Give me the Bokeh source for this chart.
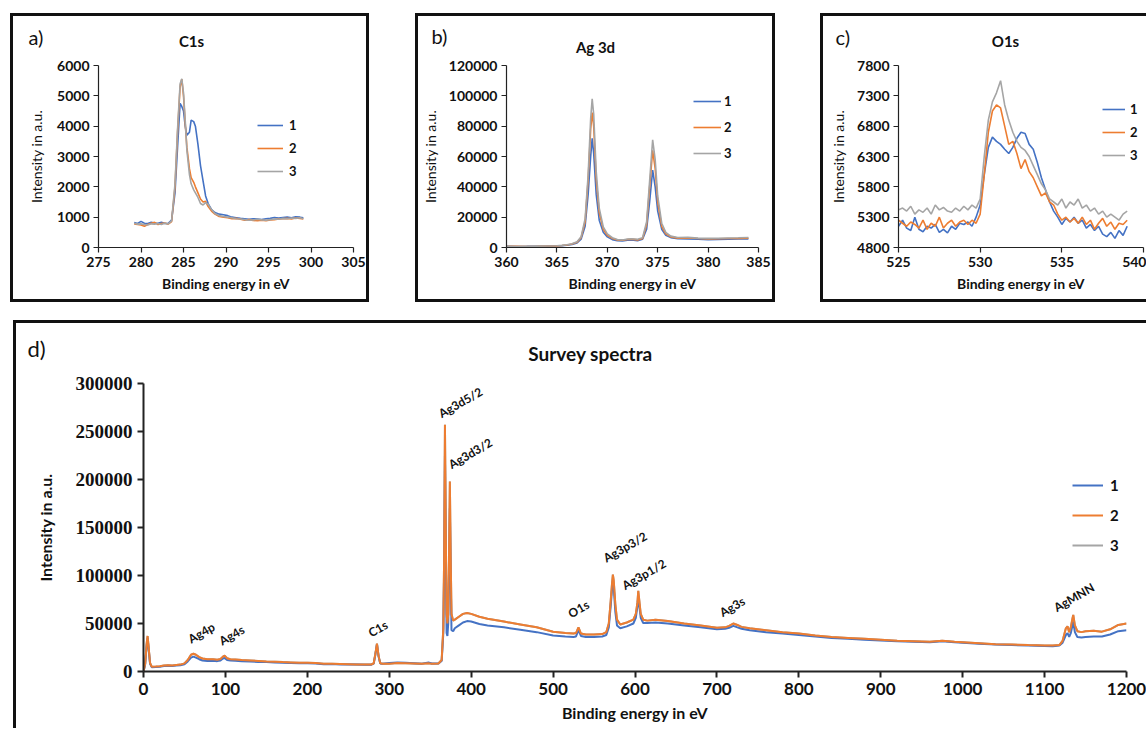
from bokeh.plotting import figure
from bokeh.models import Range1d, FixedTicker, BasicTickFormatter, Legend, LegendItem, Label, Spacer
from bokeh.layouts import column, row
from bokeh.core.properties import value
from bokeh.embed import file_html
from bokeh.resources import INLINE

SANS = "Lato"
SERIF = "Liberation Serif"
BLUE = "#4472C4"
ORANGE = "#ED7D31"
GRAY = "#A5A5A5"
series_names = ["1", "2", "3"]

# ---------------- a) C1s ----------------
c1s_x = [279.2, 279.6, 280.0, 280.4, 280.8, 281.2, 281.6, 282.0, 282.4, 282.8, 283.2, 283.6,
         284.0, 284.3, 284.6, 284.8, 285.0, 285.2, 285.4, 285.7, 285.9, 286.2, 286.4, 286.7,
         287.0, 287.3, 287.6, 287.9, 288.3, 288.7, 289.2, 289.7, 290.2, 290.7, 291.2, 291.7,
         292.2, 292.7, 293.2, 293.7, 294.2, 294.7, 295.2, 295.7, 296.2, 296.7, 297.2, 297.7,
         298.2, 298.7, 299.1]
c1s_1 = [820, 790, 860, 800, 790, 830, 810, 800, 830, 790, 800, 900,
         1800, 3300, 4750, 4650, 4500, 4000, 3700, 3800, 4200, 4150, 4000, 3400,
         2700, 2200, 1700, 1450, 1250, 1150, 1100, 1080, 1050, 1000, 980, 960,
         950, 930, 950, 940, 920, 950, 960, 990, 970, 990, 1000, 980,
         1010, 1000, 980]
c1s_2 = [780, 760, 740, 700, 760, 800, 830, 760, 790, 810, 770, 850,
         2000, 3800, 5300, 5550, 5000, 4100, 3300, 2600, 2300, 2150, 2000, 1800,
         1600, 1500, 1520, 1350, 1200, 1100, 1020, 1000, 980, 950, 960, 930,
         900, 920, 890, 880, 900, 880, 910, 920, 940, 950, 960, 940,
         970, 960, 940]
c1s_3 = [800, 770, 780, 760, 740, 780, 770, 790, 760, 800, 780, 880,
         2100, 3900, 5400, 5560, 5100, 4200, 3200, 2400, 2100, 1900, 1800, 1650,
         1450, 1400, 1480, 1420, 1250, 1120, 1050, 1020, 1000, 980, 950, 940,
         920, 900, 910, 930, 910, 900, 920, 940, 930, 960, 950, 970,
         960, 980, 950]

# ---------------- b) Ag 3d ----------------
ag3d_x = [360, 361, 362, 363, 364, 365, 365.5, 366, 366.5, 367, 367.4, 367.8, 368.1, 368.35,
          368.5, 368.65, 368.9, 369.2, 369.6, 370, 370.5, 371, 371.5, 372, 372.4, 373, 373.5,
          373.9, 374.2, 374.5, 374.75, 375, 375.4, 375.8, 376.3, 377, 378, 379, 380, 381,
          382, 383, 384]
ag3d_1 = [800, 700, 750, 850, 900, 1000, 1200, 1500, 2000, 3000, 5500, 14000, 35000, 60000,
          72000, 62000, 35000, 18000, 10000, 7000, 5200, 4500, 4300, 4800, 5000, 4500, 5500,
          12000, 30000, 51000, 40000, 24000, 12000, 8000, 6500, 5800, 5700, 5400, 5200, 5300,
          5500, 5600, 5700]
ag3d_2 = [700, 800, 700, 800, 1000, 1100, 1300, 1700, 2300, 3500, 6500, 17000, 45000, 78000,
          89000, 80000, 45000, 23000, 12000, 8000, 6000, 5000, 4800, 5300, 5500, 5000, 6000,
          15000, 40000, 64000, 52000, 30000, 14000, 9000, 7000, 6200, 6300, 5900, 5600, 5800,
          5900, 6000, 6200]
ag3d_3 = [900, 700, 800, 900, 1000, 1200, 1400, 1800, 2500, 3800, 7000, 19000, 48000, 85000,
          98000, 88000, 50000, 26000, 13500, 9000, 6500, 5300, 5000, 5600, 5800, 5400, 6500,
          17000, 44000, 71000, 58000, 34000, 16000, 10000, 7500, 6600, 6700, 6200, 6000, 6100,
          6300, 6400, 6600]

# ---------------- c) O1s ----------------
o1s_x = [525.0, 525.25, 525.5, 525.75, 526.0, 526.25, 526.5, 526.75, 527.0, 527.25, 527.5, 527.75,
         528.0, 528.25, 528.5, 528.75, 529.0, 529.25, 529.5, 529.75, 530.0, 530.25, 530.5, 530.75,
         531.0, 531.25, 531.5, 531.75, 532.0, 532.25, 532.5, 532.75, 533.0, 533.25, 533.5, 533.75,
         534.0, 534.25, 534.5, 534.75, 535.0, 535.25, 535.5, 535.75, 536.0, 536.25, 536.5, 536.75,
         537.0, 537.25, 537.5, 537.75, 538.0, 538.25, 538.5, 538.75, 539.0]
o1s_1 = [5150, 5250, 5120, 5080, 5300, 5100, 5060, 5150, 5120, 5180, 5050, 5100,
         5040, 5150, 5100, 5200, 5180, 5220, 5150, 5300, 5500, 6000, 6450, 6620,
         6550, 6500, 6420, 6350, 6450, 6600, 6700, 6680, 6500, 6420, 6200, 5950,
         5750, 5550, 5400, 5300, 5180, 5280, 5220, 5300, 5200, 5250, 5120, 5180,
         5080, 5150, 5020, 4980, 5050, 4950, 5080, 5000, 5150]
o1s_2 = [5250, 5200, 5150, 5220, 5180, 5120, 5250, 5100, 5200, 5150, 5300, 5120,
         5200, 5250, 5150, 5220, 5250, 5180, 5250, 5200, 5350, 6000, 6700, 7050,
         7150, 7100, 6800, 6500, 6550, 6350, 6100, 6250, 6050, 5950, 5800, 5650,
         5700, 5550, 5500, 5350, 5250, 5300, 5220, 5280, 5200, 5300, 5180, 5250,
         5100, 5200, 5280, 5150, 5220, 5100, 5200, 5180, 5250]
o1s_3 = [5420, 5450, 5400, 5480, 5350, 5420, 5380, 5450, 5350, 5500, 5420, 5460,
         5400, 5380, 5450, 5400, 5480, 5420, 5500, 5450, 5600, 6300, 6900, 7200,
         7350, 7550, 7150, 6900, 6700, 6550, 6450, 6400, 6300, 6150, 6000, 5850,
         5750, 5600, 5550, 5500, 5600, 5450, 5550, 5500, 5600, 5450, 5500, 5400,
         5450, 5350, 5400, 5300, 5350, 5300, 5250, 5350, 5400]

# ---------------- d) Survey ----------------
survey_x = [0, 2, 4, 5, 6, 8, 10, 15, 20, 25, 30, 35, 40, 45, 50, 54, 58, 61, 64, 68, 72, 78,
            85, 90, 94, 97, 99, 102, 106, 112, 120, 130, 140, 150, 160, 170, 180, 190, 200,
            210, 220, 230, 240, 250, 260, 270, 278, 281, 283, 285, 287, 289, 292, 300, 310,
            320, 330, 340, 348, 350, 352, 360, 364, 366, 367, 368, 369, 370, 371, 372, 373,
            374, 375, 376, 378, 380, 385, 390, 395, 400, 410, 420, 440, 460, 480, 500, 515,
            525, 528, 531, 534, 540, 550, 560, 565, 568, 570, 572, 573, 574, 576, 578, 582,
            590, 598, 601, 603, 604, 605, 607, 610, 615, 625, 640, 660, 680, 700, 710, 715,
            720, 725, 730, 740, 760, 780, 800, 820, 840, 860, 880, 900, 920, 940, 960, 975,
            990, 1000, 1020, 1040, 1060, 1080, 1100, 1110, 1118, 1122, 1126, 1128, 1130, 1132,
            1134, 1135, 1137, 1140, 1145, 1150, 1160, 1170, 1180, 1190, 1200]
survey_2 = [0, 8000, 30000, 37000, 28000, 9000, 5000, 5200, 5500, 6200, 6500, 6300, 6800, 7200,
            8500, 12000, 17500, 18500, 17500, 15000, 13500, 12800,
            12800, 12300, 13000, 15500, 16500, 13800, 12800, 12500, 12000, 11500, 11000, 10500,
            10200, 9800, 9500, 9200, 9000,
            8800, 8200, 8000, 7800, 7600, 7400, 7300, 7300, 8500, 18000, 29000, 16000, 8500,
            8000, 8200, 8800,
            8600, 8300, 8000, 8500, 8200, 8000, 8300, 12000, 45000, 120000, 257000, 150000,
            60000, 50000, 60000, 120000,
            198000, 120000, 60000, 53000, 54000, 57000, 60000, 61000, 60000, 57000, 55000,
            52000, 49000, 46000, 41500, 40000,
            39500, 40000, 46000, 39500, 38500, 38500, 39000, 41000, 50000, 70000, 92000,
            101000, 95000, 70000, 54000, 49000,
            51000, 54000, 60000, 72000, 84000, 76000, 60000, 54000, 53000, 54000, 52500,
            50000, 48000, 45500, 46000, 47500,
            50000, 48500, 46500, 45000, 43000, 41000, 39500, 37500, 36000, 35000, 34000,
            33000, 32000, 31500, 31000, 32000,
            31000, 30500, 29500, 28500, 28000, 27500, 27200, 27000, 27500, 32000, 45000,
            47000, 41000, 46000,
            55000, 59000, 48000, 42000, 41000, 42000, 42500, 41500, 44000, 48500, 50000]
survey_1 = [0, 7000, 28000, 35000, 26000, 8000, 4500, 4800, 5000, 5600, 6000, 5800, 6200, 6500,
            7500, 10500, 14500, 15500, 14500, 12800, 11500, 11000,
            11200, 10800, 11500, 13500, 14000, 12000, 11500, 11200, 10800, 10500, 10000, 9800,
            9500, 9200, 8900, 8700, 8500,
            8300, 7600, 7700, 7400, 7300, 7200, 7100, 7100, 8300, 17500, 28500, 15500, 8300,
            8200, 8800, 9300,
            9000, 8600, 8200, 9500, 8800, 8300, 8400, 11000, 40000, 105000, 225000, 130000,
            40000, 37000, 50000, 100000,
            170000, 100000, 43000, 42000, 45000, 48000, 51000, 52500, 52000, 49500, 48000,
            46000, 43500, 41000, 37500, 36500,
            36000, 36500, 43000, 37000, 36000, 36000, 36500, 38000, 46000, 65000, 86000,
            94000, 88000, 62000, 48000, 45000,
            47000, 50000, 56000, 68000, 78000, 70000, 56000, 50500, 50500, 51000, 50000,
            48000, 46000, 44000, 44500, 45500,
            47500, 46000, 44500, 43000, 41000, 39500, 38000, 36500, 35000, 34200, 33200,
            32200, 31500, 31000, 30500, 31500,
            30500, 30000, 29000, 28000, 27500, 27000, 26600, 26300, 27000, 30000, 38000,
            40000, 36000, 40000,
            48000, 52000, 41000, 36000, 35500, 36000, 36500, 36500, 38500, 42000, 43000]
# series 3 lies under series 2 in the survey (hidden behind the orange trace)
survey_3 = list(survey_2)

peak_names = ["Ag4p", "Ag4s", "C1s", "Ag3d5/2", "Ag3d3/2", "O1s", "Ag3p3/2", "Ag3p1/2", "Ag3s", "AgMNN"]
peak_x = [60, 98, 280, 366, 378, 524, 567, 590, 709, 1117]
peak_y = [26300, 24200, 32600, 261000, 208000, 52600, 110500, 82000, 53700, 59000]


def style_fig(p, xticks, yticks, tick_font, tick_size, lab_size, xlab_style, ylab_style,
              axis_w, xstand, ystand, tick_stand):
    p.grid.visible = False
    p.outline_line_color = None
    p.background_fill_color = "white"
    p.border_fill_color = "white"
    p.xaxis.ticker = FixedTicker(ticks=xticks)
    p.yaxis.ticker = FixedTicker(ticks=yticks)
    p.xaxis.formatter = BasicTickFormatter(use_scientific=False)
    p.yaxis.formatter = BasicTickFormatter(use_scientific=False)
    for ax in (p.xaxis[0], p.yaxis[0]):
        ax.minor_tick_line_color = None
        ax.major_tick_in = 0
        ax.major_tick_out = 5
        ax.axis_line_color = "#222222"
        ax.major_tick_line_color = "#222222"
        ax.axis_line_width = axis_w
        ax.major_tick_line_width = axis_w
        ax.major_label_text_font = tick_font
        ax.major_label_text_font_size = tick_size
        ax.major_label_text_font_style = "bold"
        ax.major_label_text_color = "#111111"
        ax.major_label_standoff = tick_stand
        ax.axis_label_text_font = SANS
        ax.axis_label_text_font_size = lab_size
        ax.axis_label_text_color = "#111111"
    p.xaxis[0].axis_label_text_font_style = xlab_style
    p.yaxis[0].axis_label_text_font_style = ylab_style
    p.xaxis[0].axis_label_standoff = xstand
    p.yaxis[0].axis_label_standoff = ystand
    p.xaxis[0].major_label_text_font = SANS


def make_fig(width, height, mb, xr, yr, border):
    p = figure(width=width, height=height, x_range=Range1d(*xr), y_range=Range1d(*yr),
               output_backend="svg", toolbar_location=None,
               min_border_left=mb[0], min_border_right=mb[1],
               min_border_top=mb[2], min_border_bottom=mb[3],
               x_axis_label="Binding energy in eV", y_axis_label="Intensity in a.u.")
    p.styles = border
    return p


def add_legend(p, renderers, vx, vy, gw, gh, spacing, standoff, fsize):
    items = [LegendItem(label=n, renderers=[r]) for n, r in zip(series_names, renderers)]
    lg = Legend(items=items, location=(vx, vy), padding=0, margin=0, spacing=spacing,
                glyph_width=gw, glyph_height=gh, label_height=gh, label_standoff=standoff,
                label_text_font=SANS, label_text_font_size=fsize, label_text_font_style="bold",
                label_text_color="#111111", border_line_color=None, background_fill_alpha=0)
    p.add_layout(lg)


def add_text(p, x, y, txt, size, style="normal", align="left", place="above"):
    # x, y in canvas pixels (from the top-left corner of the figure's canvas);
    # placed in a side panel so that it is not clipped to the data frame
    p.add_layout(Label(x=x, y=y, x_units="canvas", y_units="canvas", text=txt,
                       text_font=SANS, text_font_size=size, text_font_style=style,
                       text_align=align, text_baseline="middle", text_color="#111111"), place)


BORDER_FULL = {"border": "3px solid #111111"}
BORDER_C = {"border-top": "3px solid #111111", "border-left": "3px solid #111111",
            "border-bottom": "3px solid #111111"}
BORDER_D = {"border-top": "3px solid #111111", "border-left": "3px solid #111111"}

# ---- panel a
pa = make_fig(359, 289, (85, 19, 49, 55), (275, 305), (0, 6000), BORDER_FULL)
style_fig(pa, [275, 280, 285, 290, 295, 300, 305], [0, 1000, 2000, 3000, 4000, 5000, 6000],
          SANS, "14px", "14px", "bold", "normal", 1.2, 5, 9, 4)
ra = [pa.line(c1s_x, c1s_1, color=BLUE, line_width=1.6),
      pa.line(c1s_x, c1s_2, color=ORANGE, line_width=1.6),
      pa.line(c1s_x, c1s_3, color=GRAY, line_width=1.6)]
add_legend(pa, ra, 159, 68, 26, 16, 7, 6, "13px")
add_text(pa, 12, 17, "a)", "20px")
add_text(pa, 175, 21, "C1s", "15px", "bold", "center")

# ---- panel b
pb = make_fig(360, 289, (87, 20, 36, 52), (360, 385), (0, 120000), BORDER_FULL)
style_fig(pb, [360, 365, 370, 375, 380, 385], [0, 20000, 40000, 60000, 80000, 100000, 120000],
          SANS, "14px", "14px", "bold", "normal", 1.2, 5, 7, 4)
rb = [pb.line(ag3d_x, ag3d_1, color=BLUE, line_width=1.6),
      pb.line(ag3d_x, ag3d_2, color=ORANGE, line_width=1.6),
      pb.line(ag3d_x, ag3d_3, color=GRAY, line_width=1.6)]
add_legend(pb, rb, 187, 86, 28, 16, 10, 3, "13px")
add_text(pb, 10, 16, "b)", "20px", place="right")
add_text(pb, 174, 27, "Ag 3d", "15px", "bold", "center")

# ---- panel c
pc = make_fig(326, 289, (75, 6, 46, 58), (525, 540), (4800, 7800), BORDER_C)
style_fig(pc, [525, 530, 535, 540], [4800, 5300, 5800, 6300, 6800, 7300, 7800],
          SANS, "14px", "14px", "bold", "normal", 1.2, 5, 7, 4)
rc = [pc.line(o1s_x, o1s_1, color=BLUE, line_width=1.6),
      pc.line(o1s_x, o1s_2, color=ORANGE, line_width=1.6),
      pc.line(o1s_x, o1s_3, color=GRAY, line_width=1.6)]
add_legend(pc, rc, 204, 84, 23, 16, 7, 5, "13px")
add_text(pc, 9, 17, "c)", "20px")
add_text(pc, 179, 21, "O1s", "15px", "bold", "center")

# ---- panel d
pd = make_fig(1133, 408, (127, 23, 60, 60), (0, 1200), (0, 300000), BORDER_D)
style_fig(pd, list(range(0, 1300, 100)), [0, 50000, 100000, 150000, 200000, 250000, 300000],
          SERIF, "19px", "16px", "bold", "bold", 2, 5, 18, 5)
pd.xaxis[0].major_label_text_font_size = "17px"
pd.xaxis[0].major_tick_out = 6
pd.yaxis[0].major_tick_out = 6
r3 = pd.line(survey_x, survey_3, color=GRAY, line_width=2)
r1 = pd.line(survey_x, survey_1, color=BLUE, line_width=2)
r2 = pd.line(survey_x, survey_2, color=ORANGE, line_width=2)
add_legend(pd, [r1, r2, r3], 929, 116, 31, 20, 10, 7, "15px")
pd.text(x=peak_x, y=peak_y, text=peak_names, angle=0.52, text_font=value(SANS),
        text_font_size=value("12px"), text_font_style="bold", text_color="#111111",
        text_align="left", text_baseline="bottom")
add_text(pd, 8, 22, "d)", "22px")
add_text(pd, 571, 27, "Survey spectra", "19px", "bold", "center")

layout = column(
    Spacer(height=13),
    row(Spacer(width=10), pa, Spacer(width=46), pb, Spacer(width=45), pc),
    Spacer(height=18),
    row(Spacer(width=13), pd),
)

open("out.html", "w").write(file_html(layout, INLINE))
